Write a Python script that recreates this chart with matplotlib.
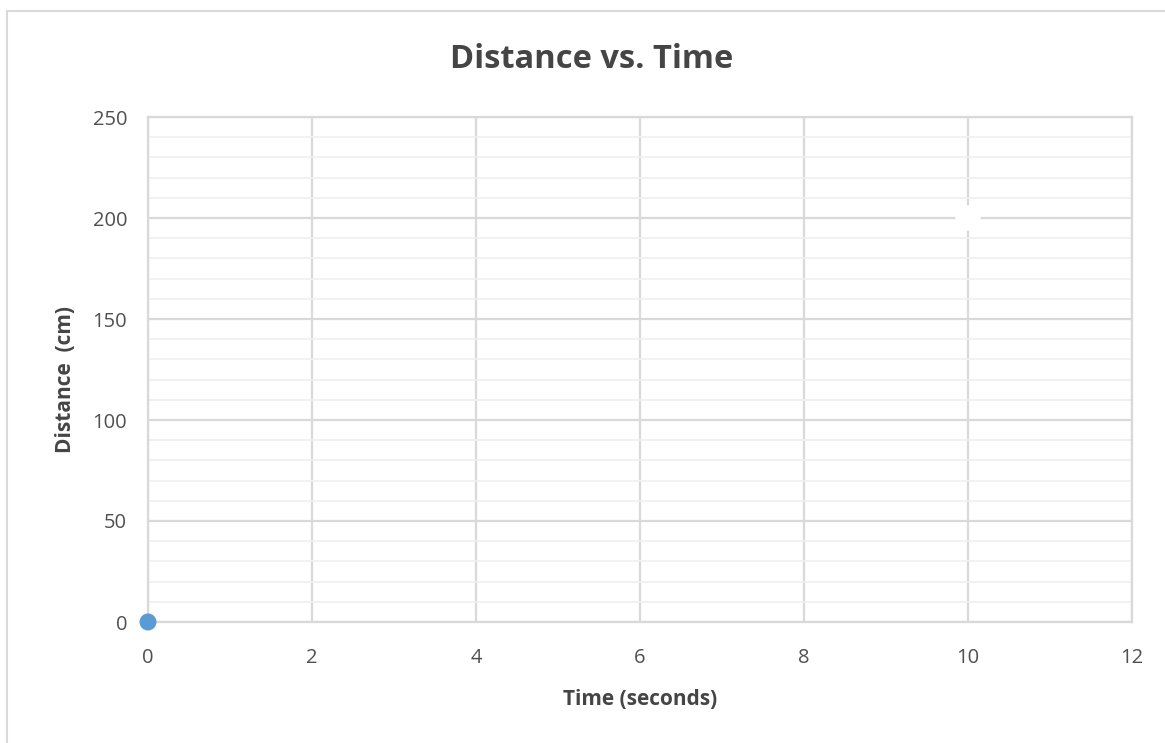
import matplotlib.pyplot as plt
from matplotlib.patches import Rectangle
from matplotlib.ticker import MultipleLocator

# Daten
time_s = [0, 10]
distance_cm = [0, 200]
point_colors = ['#5b9bd5', 'white']
x_ticks = [0, 2, 4, 6, 8, 10, 12]
y_ticks = [0, 50, 100, 150, 200, 250]

plt.rcParams['font.family'] = ['Open Sans', 'DejaVu Sans']

fig = plt.figure(figsize=(11.65, 7.43), dpi=100)
ax = fig.add_axes([148 / 1165, 1 - 622 / 743, (1132 - 148) / 1165, (622 - 117) / 743])

# Rahmen der Diagrammfläche
fig.patches.append(Rectangle((7 / 1165, -0.1), 1.2, 1.1 - 11 / 743,
                             transform=fig.transFigure, fill=False,
                             edgecolor='#d9d9d9', linewidth=1.5))

ax.set_xlim(0, 12)
ax.set_ylim(0, 250)
ax.set_xticks(x_ticks)
ax.set_yticks(y_ticks)
ax.yaxis.set_minor_locator(MultipleLocator(10))

ax.grid(which='major', axis='both', color='#d9d9d9', linewidth=1.6, zorder=0)
ax.grid(which='minor', axis='y', color='#efefef', linewidth=1.2, zorder=0)
ax.set_axisbelow(True)
for s in ax.spines.values():
    s.set_color('#d9d9d9')
    s.set_linewidth(1.6)

ax.tick_params(which='both', length=0)
ax.tick_params(axis='y', pad=15, labelsize=14.5, labelcolor='#505050')
ax.tick_params(axis='x', pad=19, labelsize=14.5, labelcolor='#505050')

ax.scatter(time_s, distance_cm, c=point_colors, s=[150, 330], zorder=3,
           edgecolors='none', clip_on=False)

# Titel ist auf den Rahmen zentriert, nicht auf die Achsen
fig.text(592 / 1165, 1 - 60 / 743, "Distance vs. Time", fontsize=23.5,
         fontweight='bold', color='#454545', ha='center', va='center')
ax.set_xlabel("Time (seconds)", fontsize=15, fontweight='bold',
              color='#454545', labelpad=15)
ax.set_ylabel("Distance  (cm)", fontsize=15, fontweight='bold',
              color='#454545', labelpad=13)
ax.yaxis.set_label_coords(-0.073, 0.48)

fig.savefig("out.png", dpi=100, facecolor='white')
